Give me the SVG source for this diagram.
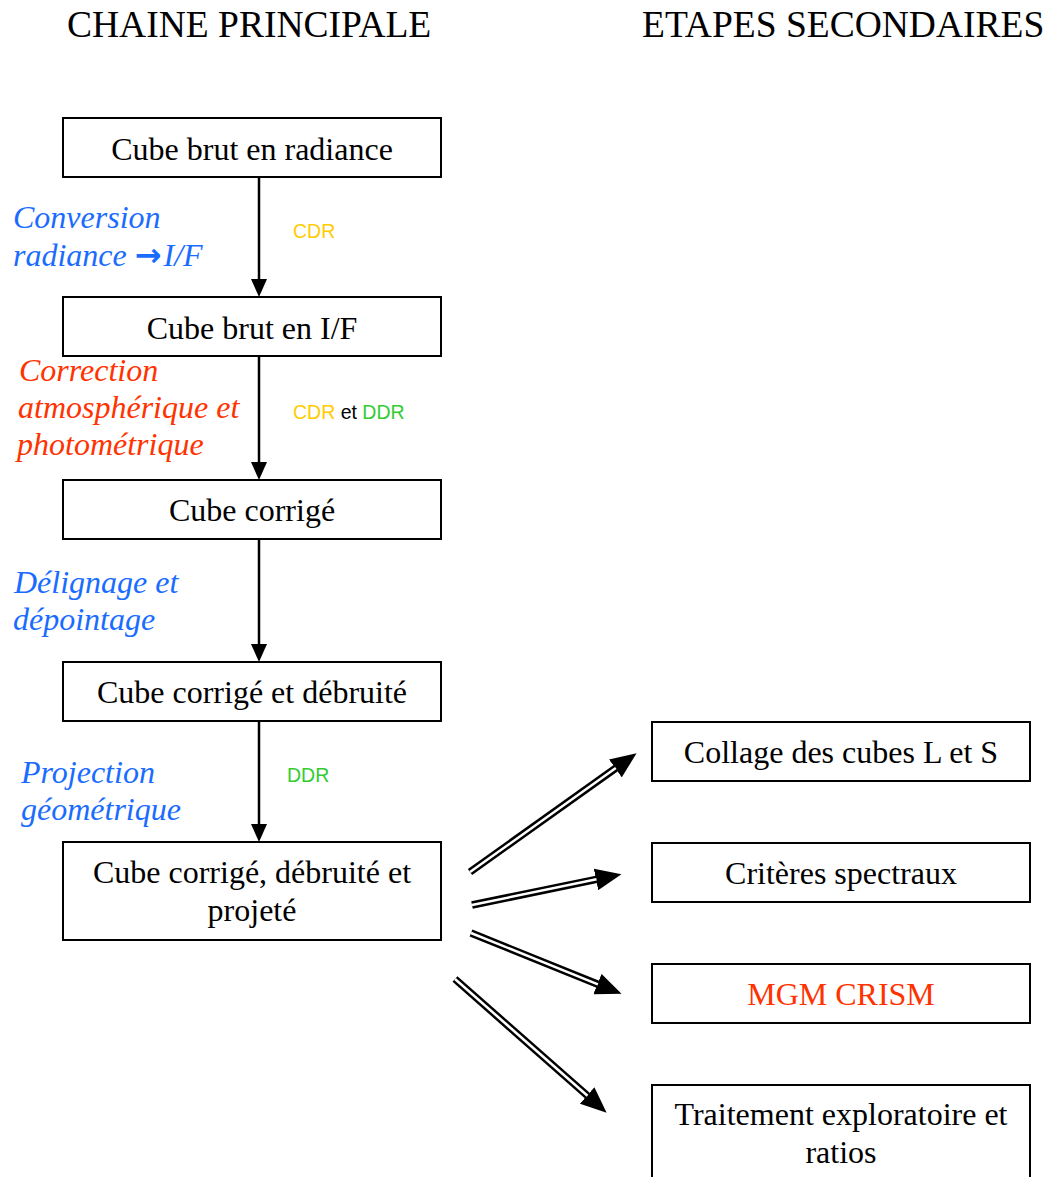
<svg xmlns="http://www.w3.org/2000/svg" width="1046" height="1177" viewBox="0 0 1046 1177">
<style>
.box{fill:#fff;stroke:#000;stroke-width:2}
.t{font-family:"Liberation Serif","Times New Roman",serif;font-size:32px;fill:#000;text-anchor:middle}
.title{font-family:"Liberation Serif","Times New Roman",serif;font-size:37.5px;fill:#000}
.lab{font-family:"Liberation Serif","Times New Roman",serif;font-size:32px;font-style:italic}
.blue{fill:#1a6cff}
.red{fill:#ff3300}
.small{font-family:"Liberation Sans",Arial,sans-serif;font-size:19.5px}
.v{stroke:#000;stroke-width:2.5;fill:none}
.dbo{stroke:#000;stroke-width:7.5;fill:none}
.dbi{stroke:#fff;stroke-width:2.5;fill:none}
</style>
<defs>
<marker id="ah" viewBox="0 -8 18 16" markerWidth="18" markerHeight="16" refX="0" refY="0" markerUnits="userSpaceOnUse" orient="auto">
<path d="M0,-8 L18,0 L0,8 z" fill="#000"/>
</marker>
<marker id="dh" viewBox="0 -11 26 22" markerWidth="26" markerHeight="22" refX="0.5" refY="0" markerUnits="userSpaceOnUse" orient="auto">
<path d="M0,-11 L26,0 L0,11 z" fill="#000"/>
</marker>
</defs>
<rect width="1046" height="1177" fill="#fff"/>
<text class="title" x="67" y="37">CHAINE PRINCIPALE</text>
<text class="title" x="642" y="37">ETAPES SECONDAIRES</text>

<g id="connectors">
<line class="v" x1="259" y1="178" x2="259" y2="279" marker-end="url(#ah)"/>
<line class="v" x1="259" y1="357" x2="259" y2="462" marker-end="url(#ah)"/>
<line class="v" x1="259" y1="540" x2="259" y2="644" marker-end="url(#ah)"/>
<line class="v" x1="259" y1="722" x2="259" y2="824" marker-end="url(#ah)"/>
<g id="c1"><line class="dbo" x1="470" y1="872" x2="615.8" y2="768.1" marker-end="url(#dh)"/><line class="dbi" x1="470" y1="872" x2="615.8" y2="768.1"/></g>
<g id="c2"><line class="dbo" x1="472" y1="905" x2="596.5" y2="879.3" marker-end="url(#dh)"/><line class="dbi" x1="472" y1="905" x2="596.5" y2="879.3"/></g>
<g id="c3"><line class="dbo" x1="471" y1="933" x2="597.9" y2="984.3" marker-end="url(#dh)"/><line class="dbi" x1="471" y1="933" x2="597.9" y2="984.3"/></g>
<g id="c4"><line class="dbo" x1="455" y1="979" x2="587.5" y2="1095.8" marker-end="url(#dh)"/><line class="dbi" x1="455" y1="979" x2="587.5" y2="1095.8"/></g>
</g>

<g id="n1"><rect class="box" x="63" y="118" width="378" height="59"/><text class="t" x="252" y="160">Cube brut en radiance</text></g>
<g id="n2"><rect class="box" x="63" y="297" width="378" height="59"/><text class="t" x="252" y="339">Cube brut en I/F</text></g>
<g id="n3"><rect class="box" x="63" y="480" width="378" height="59"/><text class="t" x="252" y="521">Cube corrigé</text></g>
<g id="n4"><rect class="box" x="63" y="662" width="378" height="59"/><text class="t" x="252" y="703">Cube corrigé et débruité</text></g>
<g id="n5"><rect class="box" x="63" y="842" width="378" height="98"/><text class="t" x="252" y="883">Cube corrigé, débruité et</text><text class="t" x="252" y="921">projeté</text></g>

<g id="r1"><rect class="box" x="652" y="722" width="378" height="59"/><text class="t" x="841" y="763">Collage des cubes L et S</text></g>
<g id="r2"><rect class="box" x="652" y="843" width="378" height="59"/><text class="t" x="841" y="884">Critères spectraux</text></g>
<g id="r3"><rect class="box" x="652" y="964" width="378" height="59"/><text class="t red" x="841" y="1005">MGM CRISM</text></g>
<g id="r4"><rect class="box" x="652" y="1085" width="378" height="110"/><text class="t" x="841" y="1125">Traitement exploratoire et</text><text class="t" x="841" y="1163">ratios</text></g>

<g id="labels">
<text class="lab blue" x="13" y="228">Conversion</text>
<text class="lab blue" x="13" y="266">radiance <tspan font-style="normal" font-weight="bold" font-family="DejaVu Sans, sans-serif" font-size="32">→</tspan><tspan dx="2">I/F</tspan></text>
<text class="lab red" x="19" y="381">Correction</text>
<text class="lab red" x="18" y="418">atmosphérique et</text>
<text class="lab red" x="17" y="455">photométrique</text>
<text class="lab blue" x="14" y="593">Délignage et</text>
<text class="lab blue" x="13" y="630">dépointage</text>
<text class="lab blue" x="21" y="783">Projection</text>
<text class="lab blue" x="21" y="820">géométrique</text>
<text class="small" x="293" y="238" fill="#ffcc00">CDR</text>
<text class="small" x="293" y="419"><tspan fill="#ffcc00">CDR</tspan><tspan fill="#000"> et </tspan><tspan fill="#33cc33">DDR</tspan></text>
<text class="small" x="287" y="782" fill="#33cc33">DDR</text>
</g>
</svg>
